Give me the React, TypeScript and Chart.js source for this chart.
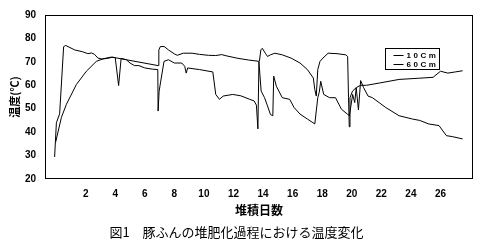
import React, { useEffect, useRef } from "react";
import { Chart, registerables } from "chart.js";

Chart.register(...registerables);

// ---- data ----
const SERIES_LABELS = ["10Cm", "60Cm"];

const daysA = [
  -0.1, 0.02, 0.24, 0.51, 0.65, 1.26, 1.8, 2.15, 2.4, 2.6, 2.83, 3.1, 3.5, 3.8,
  6.9, 6.95, 7.05, 7.3, 7.6, 8.0, 8.2, 8.6, 9.2, 9.7, 10.3, 10.8, 11.2, 11.5, 12.3, 13.0, 13.75,
  13.85, 13.95, 14.15, 14.3, 14.5, 14.8, 15.3, 15.9, 16.5, 17.0, 17.4, 17.5, 17.6,
  17.7, 17.85, 18.05, 18.4, 19.0, 19.6, 19.72, 19.78, 19.83, 19.88, 20.05, 20.3,
  20.6, 21.0, 21.9, 23.2, 24.5, 25.5, 26.0, 26.5, 27.0, 27.5,
];
const tempA = [
  29.4, 44, 47.8, 76.5, 77, 75.1, 74.3, 73.5, 73.8, 73.2, 71.6, 71.2, 71.5, 72,
  68.4, 75.1, 76.5, 76.6, 75.1, 73.4, 72.8, 73.7, 73.7, 73.2, 72.8, 72.7, 73.1, 72.6, 71.5, 70.8, 70.2,
  75.1, 75.8, 73.7, 72.3, 73, 73.7, 73, 71.6, 69.5, 66.7, 63.1, 58.2, 55.4,
  66.7, 70.2, 71.6, 73.7, 73.5, 73, 72.3, 54.7, 42.3, 54.7, 57.5, 59,
  60, 60, 61, 62.5, 63, 63.4, 66, 65.2, 65.7, 66.2,
];

const daysB = [
  -0.03, 0.36, 0.7, 1.37, 2.05, 2.72, 3.17, 3.7, 4.0, 4.23, 4.4, 4.75, 5.0, 5.3,
  5.6, 6.0, 6.5, 6.88, 6.9, 6.97, 7.06, 7.3, 7.6, 8.0, 8.5, 8.7, 8.8, 8.9, 9.7,
  10.6, 10.8, 11.05, 11.3, 11.95, 12.5, 13.1, 13.4, 13.55, 13.65, 13.72, 13.87,
  14.1, 14.3, 14.5, 14.66, 14.72, 14.9, 15.3, 15.8, 16.1, 16.5, 17.0, 17.5,
  17.7, 17.8, 17.9, 18.1, 18.5, 18.9, 19.3, 19.7, 19.84, 20.06, 20.2, 20.3,
  20.45, 20.6, 20.8, 21.1, 21.4, 21.85, 22.3, 23.2, 24.1, 24.6, 25.2, 25.9,
  26.4, 26.8, 27.5,
];
const tempB = [
  35.7, 46.3, 51.9, 60.3, 66, 70.2, 71.3, 72, 71.8, 59.9, 71.5, 70.9, 69.5, 68.4,
  68.4, 67.4, 66.9, 66.7, 49, 57.5, 61, 70.2, 70.9, 69.5, 69.5, 68.1, 65.2, 67.4, 66.7,
  65.7, 56.1, 54, 55.4, 56.1, 55.5, 54, 53.3, 51.5, 41.4, 70, 57.5,
  54.7, 51.2, 47.5, 47, 63.9, 59.6, 54.7, 54, 50.5, 47.7, 45.6, 43.5,
  54.7, 57, 61.7, 56.1, 54.7, 54.7, 49.8, 47.7, 47, 56.1, 52.6, 58.9,
  49.5, 62, 59, 55.4, 54.7, 52.6, 50.5, 47, 45.6, 45, 43.5, 42.8,
  38.5, 38.1, 37.1,
];

const X_TICKS = [2, 4, 6, 8, 10, 12, 14, 16, 18, 20, 22, 24, 26];
const X_MIN = -0.75;
const X_MAX = 28.2;
const Y_MIN = 20;
const Y_MAX = 90;
const Y_STEP = 10;

const X_TITLE = "堆積日数";
const Y_TITLE = "温度(℃)";
const CAPTION = "図1　豚ふんの堆肥化過程における温度変化";

const TICK_FONT = "'Liberation Sans', Arial, sans-serif";
const JP_FONT = "'Noto Sans CJK JP', 'Noto Sans', sans-serif";

const framePlugin = {
  id: "frameAndLegend",
  afterDatasetsDraw(chart: any) {
    const { ctx, chartArea } = chart;
    ctx.save();
    ctx.strokeStyle = "#000";
    ctx.lineWidth = 1;
    ctx.strokeRect(
      Math.round(chartArea.left) + 0.5,
      Math.round(chartArea.top) + 0.5,
      Math.round(chartArea.right - chartArea.left) - 1,
      Math.round(chartArea.bottom - chartArea.top) - 1
    );
    // legend box
    const bx = Math.round(chartArea.right - 88) + 0.5;
    const by = Math.round(chartArea.top + 33) + 0.5;
    const bw = 54;
    const bh = 21;
    ctx.fillStyle = "#fff";
    ctx.fillRect(bx, by, bw, bh);
    ctx.strokeRect(bx, by, bw, bh);
    ctx.font = "bold 8px " + TICK_FONT;
    ctx.textBaseline = "middle";
    ctx.textAlign = "left";
    try {
      (ctx as any).letterSpacing = "2.5px";
    } catch (e) {}
    chart.data.datasets.forEach((ds: any, i: number) => {
      const yy = Math.round(by + 6 + i * 9) + 0.5;
      ctx.beginPath();
      ctx.moveTo(bx + 8, yy);
      ctx.lineTo(bx + 18, yy);
      ctx.strokeStyle = ds.borderColor;
      ctx.stroke();
      ctx.fillStyle = "#000";
      ctx.fillText(ds.label, bx + 21, yy + 0.5);
    });
    ctx.restore();
  },
};

export default function App() {
  const ref = useRef<HTMLCanvasElement | null>(null);

  useEffect(() => {
    if (!ref.current) return;
    const mk = (days: number[], temps: number[]) =>
      days.map((d, i) => ({ x: d, y: temps[i] }));
    const chart = new Chart(ref.current, {
      type: "line",
      data: {
        datasets: [
          {
            label: SERIES_LABELS[0],
            data: mk(daysA, tempA),
            borderColor: "#000",
            borderWidth: 1,
            pointRadius: 0,
            tension: 0,
            fill: false,
          },
          {
            label: SERIES_LABELS[1],
            data: mk(daysB, tempB),
            borderColor: "#000",
            borderWidth: 1,
            pointRadius: 0,
            tension: 0,
            fill: false,
          },
        ],
      },
      options: {
        responsive: false,
        animation: false,
        events: [],
        layout: { padding: { top: 13, right: 10, left: 0, bottom: 0 } },
        plugins: {
          legend: { display: false },
          tooltip: { enabled: false },
          title: {
            display: true,
            position: "bottom",
            text: CAPTION,
            color: "#000",
            font: { family: JP_FONT, size: 13, weight: "normal", lineHeight: 1.2 },
            padding: { top: 3, bottom: 3 },
          },
        },
        scales: {
          x: {
            type: "linear",
            min: X_MIN,
            max: X_MAX,
            grid: { display: false, drawTicks: false, tickLength: 0 },
            border: { display: false },
            afterBuildTicks: (s: any) => {
              s.ticks = X_TICKS.map((v) => ({ value: v }));
            },
            afterFit: (s: any) => {
              s.height = 42.4;
            },
            ticks: {
              color: "#000",
              font: { family: TICK_FONT, size: 10, weight: "bold" },
              padding: 9,
              maxRotation: 0,
              autoSkip: false,
              callback: (v: any) => String(v),
            },
            title: {
              display: true,
              text: X_TITLE,
              color: "#000",
              font: { family: JP_FONT, size: 12, weight: "bold", lineHeight: 1.2 },
              padding: { top: 0, bottom: 4 },
            },
          },
          y: {
            min: Y_MIN,
            max: Y_MAX,
            grid: { display: false, drawTicks: false, tickLength: 0 },
            border: { display: false },
            afterFit: (s: any) => {
              s.width = 45;
            },
            ticks: {
              stepSize: Y_STEP,
              color: "#000",
              font: { family: TICK_FONT, size: 10, weight: "bold" },
              padding: 9,
            },
            title: {
              display: true,
              text: Y_TITLE,
              color: "#000",
              font: { family: JP_FONT, size: 11, weight: "bold", lineHeight: 1.2 },
              padding: { top: 8, bottom: 0 },
            },
          },
        },
      },
      plugins: [framePlugin],
    } as any);
    return () => chart.destroy();
  }, []);

  return (
    <div
      style={{
        position: "fixed",
        left: 0,
        top: 0,
        width: 483,
        height: 243,
        background: "#fff",
      }}
    >
      <canvas ref={ref} width={483} height={243} style={{ display: "block" }} />
    </div>
  );
}
